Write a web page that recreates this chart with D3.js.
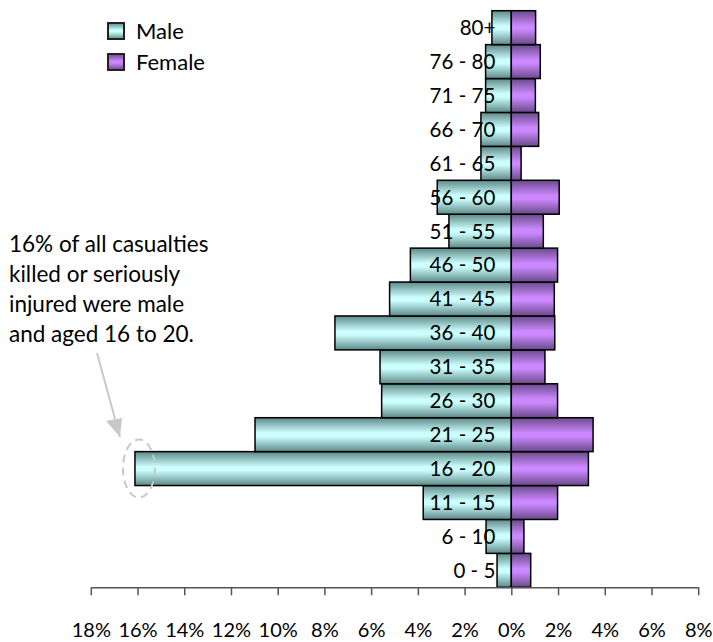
<!DOCTYPE html>
<html>
<head>
<meta charset="utf-8">
<script src="https://cdn.jsdelivr.net/npm/d3@7"></script>
<style>
  body { margin: 0; background: #fff; }
  text { font-family: Lato, "Open Sans", sans-serif; fill: #000; }
</style>
</head>
<body>
<svg id="chart" width="713" height="642"></svg>
<script>
// age bands, bottom to top
var ageGroups = ["0 - 5", "6 - 10", "11 - 15", "16 - 20", "21 - 25", "26 - 30", "31 - 35", "36 - 40",
                 "41 - 45", "46 - 50", "51 - 55", "56 - 60", "61 - 65", "66 - 70", "71 - 75", "76 - 80", "80+"];
var maleValues = [0.61, 1.08, 3.77, 16.11, 10.97, 5.55, 5.62, 7.55, 5.21, 4.32, 2.67, 3.17, 1.30, 1.30, 1.10, 1.10, 0.83];
var femaleValues = [0.83, 0.54, 1.98, 3.30, 3.50, 1.98, 1.44, 1.86, 1.84, 1.98, 1.37, 2.05, 0.42, 1.17, 1.03, 1.24, 1.04];
var tickValues = [-18, -16, -14, -12, -10, -8, -6, -4, -2, 0, 2, 4, 6, 8];
var seriesNames = ["Male", "Female"];
var noteLines = ["16% of all casualties", "killed or seriously", "injured were male", "and aged 16 to 20."];

var svg = d3.select("#chart");

var x = d3.scaleLinear().domain([-18, 8]).range([90.8, 698.2]);
var y = d3.scaleBand().domain(ageGroups.slice().reverse()).range([10.7, 587.3]).padding(0);

// cylinder like shading
var defs = svg.append("defs");
function makeGradient(id, edge, light) {
    var g = defs.append("linearGradient").attr("id", id)
        .attr("x1", "0%").attr("x2", "0%").attr("y1", "0%").attr("y2", "100%");
    g.append("stop").attr("offset", 0).attr("stop-color", edge);
    g.append("stop").attr("offset", 0.45).attr("stop-color", light);
    g.append("stop").attr("offset", 0.55).attr("stop-color", light);
    g.append("stop").attr("offset", 1).attr("stop-color", edge);
}
makeGradient("maleGrad", "#5d8987", "#ccffff");
makeGradient("femaleGrad", "#6a4a8a", "#cc88ff");

var rows = ageGroups.map(function (d, i) {
    return {age: d, male: maleValues[i], female: femaleValues[i]};
});

svg.append("g").selectAll("rect")
    .data(rows)
    .enter().append("rect")
    .attr("x", function (d) { return x(-d.male); })
    .attr("y", function (d) { return y(d.age); })
    .attr("width", function (d) { return x(0) - x(-d.male); })
    .attr("height", y.bandwidth())
    .attr("fill", "url(#maleGrad)")
    .attr("stroke", "#000")
    .attr("stroke-width", 1.5);

svg.append("g").selectAll("rect")
    .data(rows)
    .enter().append("rect")
    .attr("x", x(0))
    .attr("y", function (d) { return y(d.age); })
    .attr("width", function (d) { return x(d.female) - x(0); })
    .attr("height", y.bandwidth())
    .attr("fill", "url(#femaleGrad)")
    .attr("stroke", "#000")
    .attr("stroke-width", 1.5);

// age labels sit over the male bars
svg.append("g").selectAll("text")
    .data(rows)
    .enter().append("text")
    .attr("x", x(0) - 16)
    .attr("y", function (d) { return y(d.age) + y.bandwidth() / 2; })
    .attr("dy", "0.36em")
    .attr("text-anchor", "end")
    .attr("font-size", 20.5)
    .text(function (d) { return d.age; });

// x axis
var axis = svg.append("g")
    .attr("transform", "translate(0," + y.range()[1] + ")")
    .call(d3.axisBottom(x).tickValues(tickValues).tickSize(8).tickSizeOuter(0).tickPadding(28)
        .tickFormat(function (d) { return Math.abs(d) + "%"; }));
axis.select(".domain").attr("stroke", "#555").attr("stroke-width", 1.5);
axis.selectAll(".tick line").attr("stroke", "#555").attr("stroke-width", 1.5);
axis.selectAll(".tick text").attr("font-size", 20).attr("font-family", "Lato, sans-serif").attr("fill", "#000");

// legend
var legend = svg.append("g").selectAll("g")
    .data(seriesNames)
    .enter().append("g")
    .attr("transform", function (d, i) { return "translate(108," + (23 + i * 31) + ")"; });
legend.append("rect")
    .attr("width", 16).attr("height", 16)
    .attr("fill", function (d, i) { return i === 0 ? "url(#maleGrad)" : "url(#femaleGrad)"; })
    .attr("stroke", "#222").attr("stroke-width", 2);
legend.append("text")
    .attr("x", 28).attr("y", 16)
    .attr("font-size", 22)
    .text(function (d) { return d; });

// annotation
svg.append("g").selectAll("text")
    .data(noteLines)
    .enter().append("text")
    .attr("x", 9)
    .attr("y", function (d, i) { return 252 + i * 30; })
    .attr("font-size", 22.5)
    .text(function (d) { return d; });

var peak = rows[3];
var cx = x(-peak.male) + 4, cy = y(peak.age) + y.bandwidth() / 2;
svg.append("ellipse")
    .attr("cx", cx).attr("cy", cy)
    .attr("rx", 16).attr("ry", 29)
    .attr("fill", "none")
    .attr("stroke", "#c8c8c8")
    .attr("stroke-width", 2)
    .attr("stroke-dasharray", "8,5");

svg.append("line")
    .attr("x1", 97).attr("y1", 353)
    .attr("x2", 120).attr("y2", 437)
    .attr("stroke", "#c8c8c8")
    .attr("stroke-width", 2);
svg.append("path")
    .attr("d", "M120,437 L106,421 L122,418 Z")
    .attr("fill", "#c8c8c8");
</script>
</body>
</html>
